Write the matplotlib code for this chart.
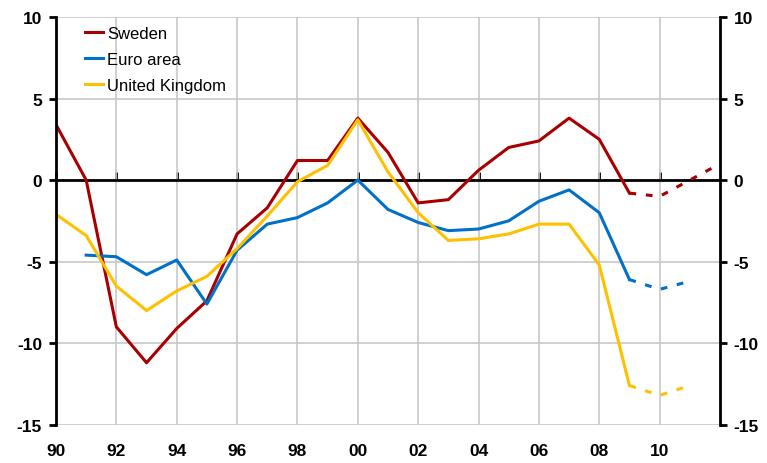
import numpy as np
import matplotlib.pyplot as plt

plt.rcParams['font.family'] = ['Liberation Sans', 'DejaVu Sans']
plt.rcParams['axes.unicode_minus'] = False

# outcome years and values
years_se = [1990, 1991, 1992, 1993, 1994, 1995, 1996, 1997, 1998, 1999, 2000,
            2001, 2002, 2003, 2004, 2005, 2006, 2007, 2008, 2009]
sweden = [3.4, 0.0, -9.0, -11.2, -9.1, -7.4, -3.3, -1.7, 1.2, 1.2, 3.8,
          1.7, -1.4, -1.2, 0.6, 2.0, 2.4, 3.8, 2.5, -0.8]

years_ea = [1991, 1992, 1993, 1994, 1995, 1996, 1997, 1998, 1999, 2000,
            2001, 2002, 2003, 2004, 2005, 2006, 2007, 2008, 2009]
euro = [-4.6, -4.7, -5.8, -4.9, -7.6, -4.3, -2.7, -2.3, -1.4, 0.0,
        -1.8, -2.6, -3.1, -3.0, -2.5, -1.3, -0.6, -2.0, -6.1]

years_uk = [1990, 1991, 1992, 1993, 1994, 1995, 1996, 1997, 1998, 1999, 2000,
            2001, 2002, 2003, 2004, 2005, 2006, 2007, 2008, 2009]
uk = [-2.1, -3.4, -6.5, -8.0, -6.8, -5.9, -4.2, -2.2, -0.1, 0.9, 3.7,
      0.5, -2.0, -3.7, -3.6, -3.3, -2.7, -2.7, -5.2, -12.6]

# forecasts (dashed)
fc_years_se = [2009, 2010, 2011, 2012]
fc_sweden = [-0.8, -1.0, 0.0, 1.0]
fc_years = [2009, 2010, 2011]
fc_euro = [-6.1, -6.7, -6.2]
fc_uk = [-12.6, -13.2, -12.6]

xticks = list(range(1990, 2012, 2))
xticklabels = ['90', '92', '94', '96', '98', '00', '02', '04', '06', '08', '10']

c_se = '#A80000'
c_ea = '#0070C8'
c_uk = '#FFC000'
lw = 2.2
dash = (0, (2.2, 3.2))

fig = plt.figure(figsize=(7.67, 4.64), dpi=100)
ax = fig.add_axes([0.073, 0.0825, 0.8657, 0.8787])

ax.plot(years_se, sweden, color=c_se, lw=lw, label='Sweden')
ax.plot(years_ea, euro, color=c_ea, lw=lw, label='Euro area')
ax.plot(years_uk, uk, color=c_uk, lw=lw, label='United Kingdom')
ax.plot(fc_years_se, fc_sweden, color=c_se, lw=lw, linestyle=dash)
ax.plot(fc_years, fc_euro, color=c_ea, lw=lw, linestyle=dash)
ax.plot(fc_years, fc_uk, color=c_uk, lw=lw, linestyle=dash)

ax.set_xlim(1990, 2012)
ax.set_ylim(-15, 10)
ax.set_yticks([-15, -10, -5, 0, 5, 10])
ax.set_xticks(xticks)
ax.set_xticklabels(xticklabels)

ax.grid(True, color='#c8c8c8', lw=1.2)
ax.set_axisbelow(True)
ax.axhline(0, color='black', lw=2, zorder=1.5)

for s in ['top', 'bottom']:
    ax.spines[s].set_visible(False)
for s in ['left', 'right']:
    ax.spines[s].set_linewidth(2)

ax.tick_params(axis='x', length=0, pad=13, labelsize=12.5)
ax.tick_params(axis='y', direction='out', length=5, width=2, labelsize=12.5,
               left=True, right=True, labelleft=True, labelright=True, pad=5)
for lab in ax.get_xticklabels() + ax.yaxis.get_ticklabels(which='both'):
    lab.set_fontweight('bold')
for t in ax.yaxis.get_major_ticks():
    t.label2.set_fontweight('bold')

# small tick marks on the zero line
sec = ax.secondary_xaxis(0.6)
sec.set_xticks(xticks)
sec.set_xticklabels([])
sec.tick_params(direction='out', length=6, width=2)
for s in sec.spines.values():
    s.set_visible(False)

leg = ax.legend(loc='upper left', bbox_to_anchor=(0.033, 0.994), frameon=False,
                fontsize=12, handlelength=1.1, handletextpad=0.25,
                labelspacing=0.66, borderaxespad=0)

plt.savefig('out.png', dpi=100)
